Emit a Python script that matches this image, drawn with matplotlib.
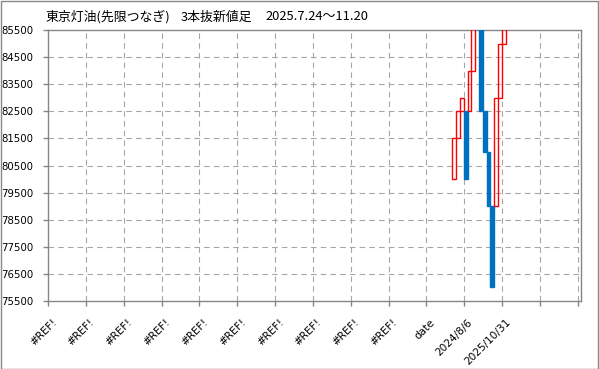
import matplotlib
matplotlib.use("Agg")
import matplotlib.pyplot as plt
from matplotlib.patches import Rectangle
from matplotlib.transforms import ScaledTranslation, blended_transform_factory

plt.rcParams['font.family'] = ['DejaVu Sans', 'Noto Sans CJK JP']
plt.rcParams['lines.scale_dashes'] = False

title_parts = ["東京灯油(先限つなぎ)", "3本抜新値足", "2025.7.24～11.20"]
categories = ["#REF!"] * 10 + ["date", "2024/8/6", "2025/10/31", ""]
y_ticks = list(range(75500, 85501, 1000))

# 3-line break blocks (open -> close)
opens = [80000, 81500, 82500, 82500, 82500, 84000, 86000,
         86000, 82500, 81000, 79000, 79000, 83000, 85000]
closes = [81500, 82500, 83000, 80000, 84000, 86000, 87000,
          82500, 81000, 79000, 76000, 83000, 85000, 86500]

W, H = 599, 369
fig = plt.figure(figsize=(W / 100, H / 100), dpi=100)
fig.patch.set_facecolor("white")
ax = fig.add_axes([48 / W, (H - 301) / H, (581 - 48) / W, (301 - 30) / H])

ncat = len(categories)
ax.set_xlim(0, ncat + 3.3 / 37.84)
ax.set_ylim(75500, 85500)

grid_c = "#a6a6a6"
axis_c = "#868686"
for v in y_ticks[1:-1]:
    ax.axhline(v, color=grid_c, lw=0.8, ls=(0, (4, 3)), zorder=1)
for i in range(1, ncat + 1):
    ax.axvline(i, color=grid_c, lw=0.8, ls=(0, (4, 3)), zorder=1)

# blocks
start = 10.685
step = 0.1007
for k, (o, c) in enumerate(zip(opens, closes)):
    x = start + k * step
    lo, hi = min(o, c), max(o, c)
    if c > o:
        ax.add_patch(Rectangle((x, lo), step, hi - lo, fill=False,
                               edgecolor="#ff0000", lw=1.0, zorder=3))
    else:
        ax.add_patch(Rectangle((x, lo), step, hi - lo, facecolor="#0070c0",
                               edgecolor="#0070c0", lw=1.0, zorder=3))

for s in ["left", "bottom", "top", "right"]:
    ax.spines[s].set_color(axis_c)
    ax.spines[s].set_linewidth(1.0)

ax.set_yticks(y_ticks)
ax.set_yticklabels([str(v) for v in y_ticks], fontsize=7.3)
ax.set_xticks(range(ncat + 1))
ax.set_xticklabels([])
ax.tick_params(axis="both", direction="out", length=3.3, width=1.0,
               color=axis_c, colors="black")
ax.tick_params(axis="y", pad=7.5)
ax.tick_params(axis="y", colors=axis_c, labelcolor="black")
ax.tick_params(axis="x", colors=axis_c)

trans = blended_transform_factory(ax.transData, ax.transAxes)
off = ScaledTranslation(-15.5 / 100, -16 / 100, fig.dpi_scale_trans)
for i, lab in enumerate(categories):
    if lab:
        ax.text(i + 0.5, 0, lab, transform=trans + off, rotation=45,
                ha="right", va="top", rotation_mode="anchor", fontsize=7.6)

for xpx, part in zip([45, 181, 265], title_parts):
    fig.text(xpx / W, 1 - 17 / H, part, ha="left", va="center", fontsize=9.3,
             family=["Noto Sans CJK JP", "DejaVu Sans"])

fig.add_artist(Rectangle((0.5 / W, 0.5 / H), (W - 1.5) / W, (H - 1.5) / H,
                         transform=fig.transFigure, fill=False,
                         edgecolor="#888888", lw=1.0))

fig.savefig("out.png", dpi=100, facecolor="white")
